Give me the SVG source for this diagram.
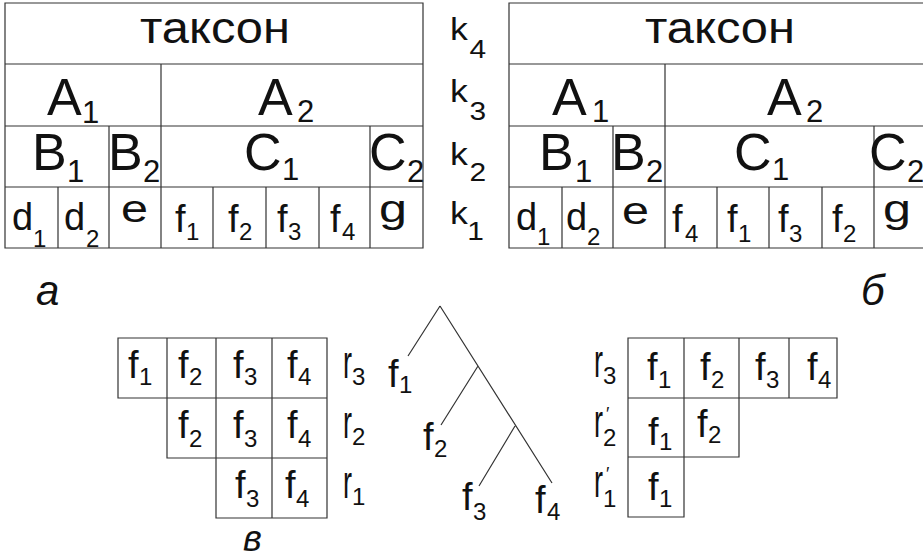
<svg xmlns="http://www.w3.org/2000/svg" width="923" height="559" viewBox="0 0 923 559">
<style>
text{font-family:"Liberation Sans",Arial,sans-serif;fill:#111}
.ln{fill:none;stroke:#333;stroke-width:1.2}
.tx{font-size:45px}
.bg{font-size:52px}
.bs{font-size:31px}
.md{font-size:38px}
.ms{font-size:24px}
.k{font-size:31px}
.ks{font-size:26px}
.r{font-size:46px}
.pr{font-size:18px}
.it{font-style:italic;font-size:42px}
</style>
<rect width="923" height="559" fill="#fff"/>
<g id="table-a">
<path class="ln" d="M5,3H423V248H5Z M5,64H423 M5,126H423 M5,187H423 M161,64V248 M109,126V248 M370,126V248 M58,187V248 M213,187V248 M266,187V248 M319,187V248"/>
<text class="tx" x="215" y="43" text-anchor="middle" textLength="150" lengthAdjust="spacingAndGlyphs">таксон</text>
<text class="bg" x="47" y="115">A<tspan class="bs" x="82" y="123">1</tspan></text>
<text class="bg" x="258" y="115">A<tspan class="bs" x="297" y="122">2</tspan></text>
<text class="bg" x="32" y="170">B<tspan class="bs" x="67" y="182">1</tspan></text>
<text class="bg" x="108" y="170">B<tspan class="bs" x="143" y="182">2</tspan></text>
<text class="bg" x="244" y="170">C<tspan class="bs" x="282" y="180">1</tspan></text>
<text class="bg" x="369" y="170">C<tspan class="bs" x="407" y="182">2</tspan></text>
<text class="md" x="12" y="230">d<tspan class="ms" x="33" y="247">1</tspan></text>
<text class="md" x="64" y="230">d<tspan class="ms" x="86" y="247">2</tspan></text>
<text class="md" x="121" y="222" textLength="27" lengthAdjust="spacingAndGlyphs">e</text>
<text class="md" x="175" y="232">f<tspan class="ms" x="186" y="240">1</tspan></text>
<text class="md" x="228" y="232">f<tspan class="ms" x="239" y="240">2</tspan></text>
<text class="md" x="277" y="232">f<tspan class="ms" x="288" y="240">3</tspan></text>
<text class="md" x="330" y="232">f<tspan class="ms" x="342" y="240">4</tspan></text>
<text class="md" x="379" y="222" textLength="28" lengthAdjust="spacingAndGlyphs">g</text>
</g>
<g id="k-labels">
<text class="k" transform="matrix(1.15 0 0 1 450 0)" x="0" y="40">k<tspan class="ks" x="17" y="58">4</tspan></text>
<text class="k" transform="matrix(1.15 0 0 1 450 0)" x="0" y="102">k<tspan class="ks" x="17" y="120">3</tspan></text>
<text class="k" transform="matrix(1.15 0 0 1 450 0)" x="0" y="165">k<tspan class="ks" x="17" y="181">2</tspan></text>
<text class="k" transform="matrix(1.15 0 0 1 450 0)" x="0" y="224">k<tspan class="ks" x="15" y="240">1</tspan></text>
</g>
<g id="table-b">
<path class="ln" d="M923,3H509V248H923 M509,64H923 M509,126H923 M509,187H923 M665,64V248 M613,126V248 M874,126V248 M562,187V248 M717,187V248 M769,187V248 M822,187V248"/>
<text class="tx" x="720" y="43" text-anchor="middle" textLength="150" lengthAdjust="spacingAndGlyphs">таксон</text>
<text class="bg" x="552" y="115">A<tspan class="bs" x="592" y="122">1</tspan></text>
<text class="bg" x="767" y="115">A<tspan class="bs" x="806" y="122">2</tspan></text>
<text class="bg" x="539" y="170">B<tspan class="bs" x="575" y="182">1</tspan></text>
<text class="bg" x="611" y="170">B<tspan class="bs" x="646" y="182">2</tspan></text>
<text class="bg" x="734" y="170">C<tspan class="bs" x="772" y="180">1</tspan></text>
<text class="bg" x="869" y="170">C<tspan class="bs" x="907" y="182">2</tspan></text>
<text class="md" x="516" y="230">d<tspan class="ms" x="537" y="245">1</tspan></text>
<text class="md" x="566" y="230">d<tspan class="ms" x="587" y="245">2</tspan></text>
<text class="md" x="622" y="224" textLength="27" lengthAdjust="spacingAndGlyphs">e</text>
<text class="md" x="672" y="232">f<tspan class="ms" x="685" y="242">4</tspan></text>
<text class="md" x="727" y="232">f<tspan class="ms" x="738" y="242">1</tspan></text>
<text class="md" x="778" y="232">f<tspan class="ms" x="789" y="242">3</tspan></text>
<text class="md" x="832" y="232">f<tspan class="ms" x="843" y="242">2</tspan></text>
<text class="md" x="883" y="222" textLength="28" lengthAdjust="spacingAndGlyphs">g</text>
</g>
<g id="table-v-left">
<path class="ln" d="M118,338H327V518H216V458H167V398H118Z M118,398H327 M167,458H327 M167,338V398 M216,338V458 M272,338V518"/>
<text class="md" x="128" y="378">f<tspan class="ms" x="139" y="385">1</tspan></text>
<text class="md" x="178" y="378">f<tspan class="ms" x="189" y="385">2</tspan></text>
<text class="md" x="233" y="378">f<tspan class="ms" x="244" y="385">3</tspan></text>
<text class="md" x="287" y="378">f<tspan class="ms" x="298" y="385">4</tspan></text>
<text class="md" x="178" y="438">f<tspan class="ms" x="189" y="447">2</tspan></text>
<text class="md" x="233" y="438">f<tspan class="ms" x="244" y="447">3</tspan></text>
<text class="md" x="287" y="438">f<tspan class="ms" x="298" y="447">4</tspan></text>
<text class="md" x="235" y="498">f<tspan class="ms" x="246" y="507">3</tspan></text>
<text class="md" x="285" y="498">f<tspan class="ms" x="296" y="507">4</tspan></text>
<text class="r" x="343" y="378" textLength="9" lengthAdjust="spacingAndGlyphs">r</text><text class="ms" x="352" y="385">3</text>
<text class="r" x="343" y="438" textLength="9" lengthAdjust="spacingAndGlyphs">r</text><text class="ms" x="352" y="445">2</text>
<text class="r" x="343" y="498" textLength="9" lengthAdjust="spacingAndGlyphs">r</text><text class="ms" x="352" y="505">1</text>
</g>
<g id="tree">
<g id="connectors">
<path class="ln" d="M440,306L552,483 M440,306L408,356 M478,366L441,425 M515,426L479,486"/>
</g>
<text class="md" x="388" y="387">f<tspan class="ms" x="399" y="393">1</tspan></text>
<text class="md" x="423" y="450">f<tspan class="ms" x="434" y="457">2</tspan></text>
<text class="md" x="462" y="510">f<tspan class="ms" x="473" y="520">3</tspan></text>
<text class="md" x="535" y="513">f<tspan class="ms" x="547" y="520">4</tspan></text>
</g>
<g id="table-v-right">
<path class="ln" d="M628,338H837V398H739V457H684V517H628Z M628,398H739 M628,457H684 M684,338V457 M739,338V398 M789,338V398"/>
<text class="r" x="594" y="377" textLength="9" lengthAdjust="spacingAndGlyphs">r</text><text class="ms" x="603" y="384">3</text>
<text class="r" x="594" y="437" textLength="9" lengthAdjust="spacingAndGlyphs">r</text><text class="pr" x="606" y="420">′</text><text class="ms" x="603" y="446">2</text>
<text class="r" x="594" y="497" textLength="9" lengthAdjust="spacingAndGlyphs">r</text><text class="pr" x="606" y="480">′</text><text class="ms" x="603" y="507">1</text>
<text class="md" x="647" y="380">f<tspan class="ms" x="658" y="388">1</tspan></text>
<text class="md" x="700" y="380">f<tspan class="ms" x="711" y="388">2</tspan></text>
<text class="md" x="755" y="380">f<tspan class="ms" x="766" y="388">3</tspan></text>
<text class="md" x="807" y="380">f<tspan class="ms" x="818" y="388">4</tspan></text>
<text class="md" x="648" y="445">f<tspan class="ms" x="659" y="450">1</tspan></text>
<text class="md" x="697" y="437">f<tspan class="ms" x="708" y="443">2</tspan></text>
<text class="md" x="648" y="500">f<tspan class="ms" x="659" y="507">1</tspan></text>
</g>
<g id="captions">
<text class="it" x="36" y="305">а</text>
<text class="it" x="861" y="305">б</text>
<text class="it" x="243" y="551" style="font-size:36px">в</text>
</g>
</svg>
